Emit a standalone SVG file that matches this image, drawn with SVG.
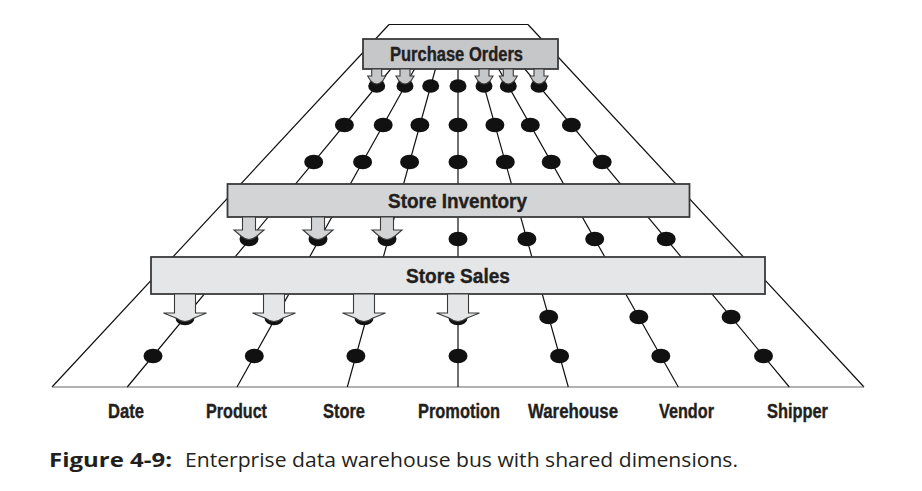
<svg xmlns="http://www.w3.org/2000/svg" width="922" height="491" viewBox="0 0 922 491">
<style>
.ln{stroke:#111;stroke-width:1.2;fill:none}
.base{stroke:#666;stroke-width:1.2;fill:none}
.dot{fill:#111}
.box{stroke:#3a3a3a;stroke-width:1.8}
.arr{stroke:#3a3a3a;stroke-width:1.1;stroke-linejoin:miter}
.po{fill:#c6c7c9}
.inv{fill:#d3d4d6}
.sal{fill:#e5e6e7}
.t{font-family:'Liberation Sans',Arial,sans-serif;font-weight:bold;font-size:21px;fill:#231f20;stroke:#231f20;stroke-width:0.4}
.cap{font-family:'Open Sans','Noto Sans','Liberation Sans',sans-serif;font-size:20px;fill:#231f20}
</style>
<defs>
<path id="aPO" d="M-5,69 V76 H-9 L-6,81 Q0,87 6,81 L9,76 H5 V69 Z"/>
<path id="aINV" d="M-6.5,217 V230 H-15 L-8,236 Q0,243 8,236 L15,230 H6.5 V217 Z"/>
<path id="aSAL" d="M-10.5,294 V313 H-21.5 L-9,318 Q0,325 9,318 L21.5,313 H10.5 V294 Z"/>
</defs>
<rect width="922" height="491" fill="#fff"/>
<g id="connectors">
<path class="ln" d="M389,24.5 H528 M389,24.5 L52,387 M528,24.5 L864,387"/>
<path class="base" d="M52,387 H864"/>
<path class="ln" d="M410.7,45 L127.3,387 M427.9,45 L237,387 M442.1,45 L347.3,387 M458,45 L458,387 M472.5,45 L568.3,387 M485.1,45 L678.3,387 M504.9,45 L789.3,387"/>
</g>
<g id="dots">
<ellipse class="dot" cx="376.7" cy="86" rx="8.5" ry="6.8"/><ellipse class="dot" cx="405" cy="86" rx="8.5" ry="6.8"/><ellipse class="dot" cx="430.7" cy="86" rx="8.5" ry="6.8"/><ellipse class="dot" cx="458" cy="86" rx="8.5" ry="6.8"/><ellipse class="dot" cx="484" cy="86" rx="8.5" ry="6.8"/><ellipse class="dot" cx="508.3" cy="86" rx="8.5" ry="6.8"/><ellipse class="dot" cx="539" cy="86" rx="8.5" ry="6.8"/>
<ellipse class="dot" cx="344.4" cy="125" rx="9.5" ry="7.3"/><ellipse class="dot" cx="383.2" cy="125" rx="9.5" ry="7.3"/><ellipse class="dot" cx="419.9" cy="125" rx="9.5" ry="7.3"/><ellipse class="dot" cx="458" cy="125" rx="9.5" ry="7.3"/><ellipse class="dot" cx="494.9" cy="125" rx="9.5" ry="7.3"/><ellipse class="dot" cx="530.3" cy="125" rx="9.5" ry="7.3"/><ellipse class="dot" cx="571.4" cy="125" rx="9.5" ry="7.3"/>
<ellipse class="dot" cx="313.7" cy="162" rx="9.5" ry="7.3"/><ellipse class="dot" cx="362.6" cy="162" rx="9.5" ry="7.3"/><ellipse class="dot" cx="409.6" cy="162" rx="9.5" ry="7.3"/><ellipse class="dot" cx="458" cy="162" rx="9.5" ry="7.3"/><ellipse class="dot" cx="505.3" cy="162" rx="9.5" ry="7.3"/><ellipse class="dot" cx="551.2" cy="162" rx="9.5" ry="7.3"/><ellipse class="dot" cx="602.2" cy="162" rx="9.5" ry="7.3"/>
<ellipse class="dot" cx="249" cy="239" rx="9.5" ry="7.3"/><ellipse class="dot" cx="318" cy="239" rx="9.5" ry="7.3"/><ellipse class="dot" cx="387" cy="239" rx="9.5" ry="7.3"/><ellipse class="dot" cx="458" cy="239" rx="9.5" ry="7.3"/><ellipse class="dot" cx="526.9" cy="239" rx="9.5" ry="7.3"/><ellipse class="dot" cx="594.7" cy="239" rx="9.5" ry="7.3"/><ellipse class="dot" cx="666.2" cy="239" rx="9.5" ry="7.3"/>
<ellipse class="dot" cx="185" cy="318" rx="9.5" ry="7.3"/><ellipse class="dot" cx="274" cy="318" rx="9.5" ry="7.3"/><ellipse class="dot" cx="364" cy="318" rx="9.5" ry="7.3"/><ellipse class="dot" cx="458" cy="318" rx="9.5" ry="7.3"/><ellipse class="dot" cx="548.7" cy="317" rx="9.5" ry="7.3"/><ellipse class="dot" cx="638.8" cy="317" rx="9.5" ry="7.3"/><ellipse class="dot" cx="731.1" cy="317" rx="9.5" ry="7.3"/>
<ellipse class="dot" cx="153" cy="356" rx="9.5" ry="7.3"/><ellipse class="dot" cx="254.3" cy="356" rx="9.5" ry="7.3"/><ellipse class="dot" cx="355.9" cy="356" rx="9.5" ry="7.3"/><ellipse class="dot" cx="458" cy="356" rx="9.5" ry="7.3"/><ellipse class="dot" cx="559.6" cy="356" rx="9.5" ry="7.3"/><ellipse class="dot" cx="660.8" cy="356" rx="9.5" ry="7.3"/><ellipse class="dot" cx="763.5" cy="356" rx="9.5" ry="7.3"/>
</g>
<g id="purchase-orders">
<rect class="box po" x="363" y="39" width="195" height="30"/>
<use href="#aPO" class="arr po" x="376.7"/><use href="#aPO" class="arr po" x="405"/><use href="#aPO" class="arr po" x="484"/><use href="#aPO" class="arr po" x="508.3"/><use href="#aPO" class="arr po" x="539"/>
<text class="t" x="390" y="61" textLength="133" lengthAdjust="spacingAndGlyphs">Purchase Orders</text>
</g>
<g id="store-inventory">
<rect class="box inv" x="227.5" y="184" width="462" height="33"/>
<use href="#aINV" class="arr inv" x="249"/><use href="#aINV" class="arr inv" x="318"/><use href="#aINV" class="arr inv" x="387"/>
<text class="t" x="388" y="207.5" textLength="139" lengthAdjust="spacingAndGlyphs">Store Inventory</text>
</g>
<g id="store-sales">
<rect class="box sal" x="151" y="257" width="614" height="37"/>
<use href="#aSAL" class="arr sal" x="185"/><use href="#aSAL" class="arr sal" x="274"/><use href="#aSAL" class="arr sal" x="364"/><use href="#aSAL" class="arr sal" x="458"/>
<text class="t" x="406" y="283" textLength="104" lengthAdjust="spacingAndGlyphs">Store Sales</text>
</g>
<g id="dim-date"><text class="t" x="108" y="418" textLength="36" lengthAdjust="spacingAndGlyphs">Date</text></g>
<g id="dim-product"><text class="t" x="206" y="418" textLength="61" lengthAdjust="spacingAndGlyphs">Product</text></g>
<g id="dim-store"><text class="t" x="323" y="418" textLength="42" lengthAdjust="spacingAndGlyphs">Store</text></g>
<g id="dim-promotion"><text class="t" x="418" y="418" textLength="82" lengthAdjust="spacingAndGlyphs">Promotion</text></g>
<g id="dim-warehouse"><text class="t" x="528" y="418" textLength="90" lengthAdjust="spacingAndGlyphs">Warehouse</text></g>
<g id="dim-vendor"><text class="t" x="659" y="418" textLength="55" lengthAdjust="spacingAndGlyphs">Vendor</text></g>
<g id="dim-shipper"><text class="t" x="767" y="418" textLength="61" lengthAdjust="spacingAndGlyphs">Shipper</text></g>
<g id="caption">
<text class="cap" x="49" y="466.7" font-weight="bold" textLength="123" lengthAdjust="spacingAndGlyphs">Figure 4-9:</text>
<text class="cap" x="185" y="466.7" textLength="553" lengthAdjust="spacingAndGlyphs">Enterprise data warehouse bus with shared dimensions.</text>
</g>
</svg>
